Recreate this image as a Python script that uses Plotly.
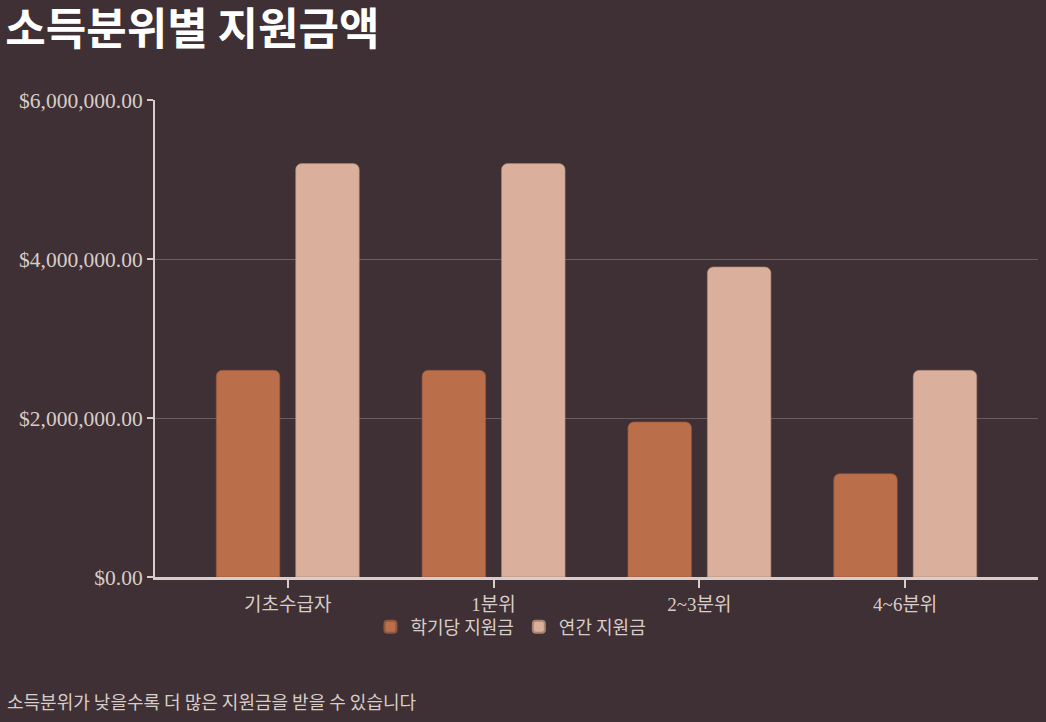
import plotly.graph_objects as go

categories = ["기초수급자", "1분위", "2~3분위", "4~6분위"]
semester_support = [2600000, 2600000, 1950000, 1300000]
annual_support = [5200000, 5200000, 3900000, 2600000]
series_names = ["학기당 지원금", "연간 지원금"]
y_ticks = [0, 2000000, 4000000, 6000000]

BG = "#3e3034"
DARK = "#bb6e4a"
LIGHT = "#dab09c"
AXIS = "#d8cdc8"
GRID = "#6a5c60"
SANS = "Noto Sans CJK KR"
SERIF = "Liberation Serif, Noto Sans CJK KR"

fig = go.Figure()
fig.add_trace(go.Bar(
    x=categories, y=semester_support, name=series_names[0],
    marker=dict(color=DARK, cornerradius=6, line=dict(color="#8e5840", width=0.6)),
))
fig.add_trace(go.Bar(
    x=categories, y=annual_support, name=series_names[1],
    marker=dict(color=LIGHT, cornerradius=6, line=dict(color="#a88473", width=0.6)),
))

fig.update_layout(
    width=1046, height=722,
    paper_bgcolor=BG, plot_bgcolor=BG,
    margin=dict(l=155, r=8, t=100, b=145),
    barmode="group", bargap=0.228, bargroupgap=0.2,
    title=dict(
        text="<b>소득분위별 지원금액</b>",
        x=0.005, xanchor="left", xref="container",
        y=0.98, yanchor="top", yref="container",
        font=dict(family=SANS, size=44, color="#ffffff"),
    ),
    legend=dict(
        orientation="h", x=0.244, xanchor="left", y=-0.066, yanchor="top",
        font=dict(family=SANS, size=18, color=AXIS),
        bgcolor="rgba(0,0,0,0)", itemsizing="constant",
    ),
    showlegend=True,
    xaxis=dict(
        range=[-0.645, 3.645],
        showline=True, linecolor=AXIS, linewidth=2.5,
        ticks="outside", ticklen=8, tickwidth=2, tickcolor=AXIS,
        tickfont=dict(family=SERIF, size=19, color=AXIS),
        showgrid=False, zeroline=False,
    ),
    yaxis=dict(
        range=[0, 6000000],
        tickvals=y_ticks, tickformat="$,.2f",
        showline=True, linecolor=AXIS, linewidth=2,
        ticks="outside", ticklen=6, tickwidth=2, tickcolor=AXIS,
        tickfont=dict(family=SERIF, size=21.5, color=AXIS),
        showgrid=True, gridcolor=GRID, gridwidth=1,
        zeroline=False,
    ),
    annotations=[dict(
        text="소득분위가 낮을수록 더 많은 지원금을 받을 수 있습니다",
        xref="paper", yref="paper", x=-0.170, y=-0.26,
        xanchor="left", yanchor="middle", showarrow=False,
        font=dict(family=SANS, size=18, color=AXIS),
    )],
)

fig.write_html(
    "out.html",
    config={"displayModeBar": False},
    post_script="document.body.style.margin='0';document.body.style.background='#3e3034';",
)
